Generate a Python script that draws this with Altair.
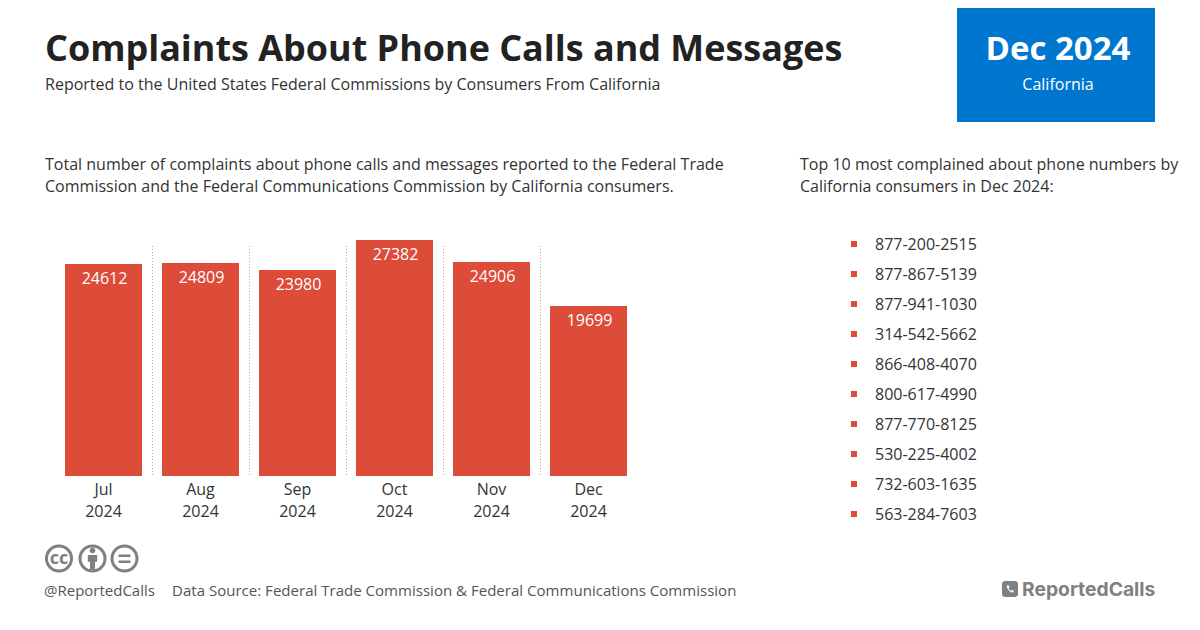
import altair as alt
import pandas as pd

months = ["Jul 2024", "Aug 2024", "Sep 2024", "Oct 2024", "Nov 2024", "Dec 2024"]
counts = [24612, 24809, 23980, 27382, 24906, 19699]
grid_months = months[:5]
grid_top = 26690
phones = ["877-200-2515", "877-867-5139", "877-941-1030", "314-542-5662", "866-408-4070",
          "800-617-4990", "877-770-8125", "530-225-4002", "732-603-1635", "563-284-7603"]

TITLE = "Complaints About Phone Calls and Messages"
SUBTITLE = "Reported to the United States Federal Commissions by Consumers From California"
LEFT_LINES = ["Total number of complaints about phone calls and messages reported to the Federal Trade",
              "Commission and the Federal Communications Commission by California consumers."]
RIGHT_LINES = ["Top 10 most complained about phone numbers by",
               "California consumers in Dec 2024:"]

FONT = "Open Sans"
RED = "#dd4b39"
BLUE = "#0077cf"
INK = "#333333"
GRAY = "#808080"
BODY = 16.03
OX, OY = 8, 8  # page margin


def txt(s, x, y, size=BODY, color=INK, weight="normal", align="left", font=FONT):
    return alt.Chart(alt.Data(values=[{"t": s}])).mark_text(
        font=font, fontSize=size, color=color, fontWeight=weight, align=align, baseline="alphabetic"
    ).encode(text="t:N", x=alt.value(x - OX), y=alt.value(y - OY))


def box(x0, x1, y0, y1, color, radius=0):
    return alt.Chart(alt.Data(values=[{"a": 1}])).mark_rect(color=color, cornerRadius=radius).encode(
        x=alt.value(x0 - OX), x2=alt.value(x1 - OX), y=alt.value(y0 - OY), y2=alt.value(y1 - OY))


def sym(shape, x, y, size, fill=None, stroke=None, sw=0):
    kw = dict(shape=shape, size=size, strokeWidth=sw, opacity=1)
    if fill:
        kw.update(fill=fill, filled=True)
    else:
        kw.update(filled=False)
    if stroke:
        kw.update(stroke=stroke)
    return alt.Chart(alt.Data(values=[{"a": 1}])).mark_point(**kw).encode(
        x=alt.value(x - OX), y=alt.value(y - OY))


df = pd.DataFrame({"month": months, "count": counts})
gdf = pd.DataFrame({"month": grid_months, "top": [grid_top] * len(grid_months), "zero": [0] * len(grid_months)})

x_scale = alt.Scale(domain=months, range=[55 - OX, 637 - OX], paddingInner=20 / 97, paddingOuter=10 / 97)
label_expr = "datum.label == 'Jul 2024' ? ['Jul\u00a0\u00a0', '2024'] : split(datum.label, ' ')"
x_enc = alt.X("month:N", sort=months, title=None, scale=x_scale,
              axis=alt.Axis(orient="bottom", offset=476 - OY - 606, domain=False, ticks=False, grid=False,
                            labelAngle=0, labelAlign="center", labelFont=FONT, labelFontSize=16, labelColor=INK,
                            labelPadding=13, labelLineHeight=22, labelExpr=label_expr))
y_scale = alt.Scale(domain=[0, 27382], range=[476 - OY, 476 - OY - 235.62], nice=False, zero=True, round=True)
y_enc = alt.Y("count:Q", title=None, axis=None, scale=y_scale)

bars = alt.Chart(df).mark_bar(color=RED).encode(x=x_enc, y=y_enc)
values = alt.Chart(df).mark_text(font=FONT, fontSize=16, color="white", baseline="alphabetic", dy=19.5, dx=1).encode(
    x=alt.X("month:N", sort=months), y=y_enc, text="count:Q")
rules = alt.Chart(gdf).mark_rule(color="#aaaaaa", strokeWidth=1, strokeDash=[1, 2], xOffset=49).encode(
    x=alt.X("month:N", sort=months), y=alt.Y("top:Q", title=None, axis=None, scale=y_scale), y2="zero:Q")

py = alt.Y("phone:N", sort=phones, title=None, axis=None,
           scale=alt.Scale(type="point", domain=phones, range=[244 - OY, 514 - OY], padding=0))
pdf = pd.DataFrame({"phone": phones})
bullets = alt.Chart(pdf).mark_square(color=RED, size=36, opacity=1).encode(x=alt.value(854 - OX), y=py)
ptext = alt.Chart(pdf).mark_text(font=FONT, fontSize=16, color=INK, align="left", baseline="middle", dy=1).encode(
    x=alt.value(875 - OX), y=py, text="phone:N")

PERSON = "M-0.55 -0.6 L0.55 -0.6 L0.55 0.2 L0.3 0.2 L0.3 1.15 L-0.3 1.15 L-0.3 0.2 L-0.55 0.2 Z"
HANDSET = ("M-0.65 -0.7 L-0.3 -0.75 L-0.1 -0.3 L-0.3 -0.1 C-0.15 0.15 0.05 0.3 0.25 0.35 "
           "L0.4 0.15 L0.75 0.35 L0.65 0.7 C0.1 0.75 -0.7 0 -0.65 -0.7 Z")

decor = [
    box(957, 1155, 0, 122, BLUE),
    txt("Dec 2024", 1058, 60, size=33, color="white", weight="bold", align="center"),
    txt("California", 1058, 90, size=16, color="white", align="center"),
    txt(TITLE, 45, 61, size=35.95, color="#222222", weight="bold"),
    txt(SUBTITLE, 45, 90),
    txt(LEFT_LINES[0], 45, 170),
    txt(LEFT_LINES[1], 45, 192),
    txt(RIGHT_LINES[0], 800, 170),
    txt(RIGHT_LINES[1], 800, 192),
    sym("circle", 59, 558.5, 625, stroke=GRAY, sw=3),
    txt("cc", 59, 564, size=18, color=GRAY, weight="bold", align="center"),
    sym("circle", 92.5, 558.5, 625, stroke=GRAY, sw=3),
    sym("circle", 92.5, 550.5, 30, fill=GRAY),
    sym(PERSON, 92.5, 560, 289, fill=GRAY),
    sym("circle", 124.5, 558.5, 625, stroke=GRAY, sw=3),
    box(118.5, 130.5, 554.5, 557, GRAY),
    box(118.5, 130.5, 560.5, 563, GRAY),
    txt("@ReportedCalls", 44, 596, size=15, color="#555555"),
    txt("Data Source: Federal Trade Commission & Federal Communications Commission", 172, 596, size=15.05, color="#555555"),
    box(1002, 1018, 581, 597, GRAY, radius=3),
    sym(HANDSET, 1010, 589, 100, fill="white"),
    txt("ReportedCalls", 1022, 596, size=19.3, color=GRAY, weight="bold", font="Inter"),
]

chart = alt.layer(rules, bars, values, bullets, ptext, *decor).resolve_scale(y="independent").properties(
    width=1184, height=606, padding=0, autosize=alt.AutoSizeParams(type="none"), background="white"
).configure_view(stroke=None)

chart.save("out.html", embed_options={"renderer": "svg", "actions": False})
